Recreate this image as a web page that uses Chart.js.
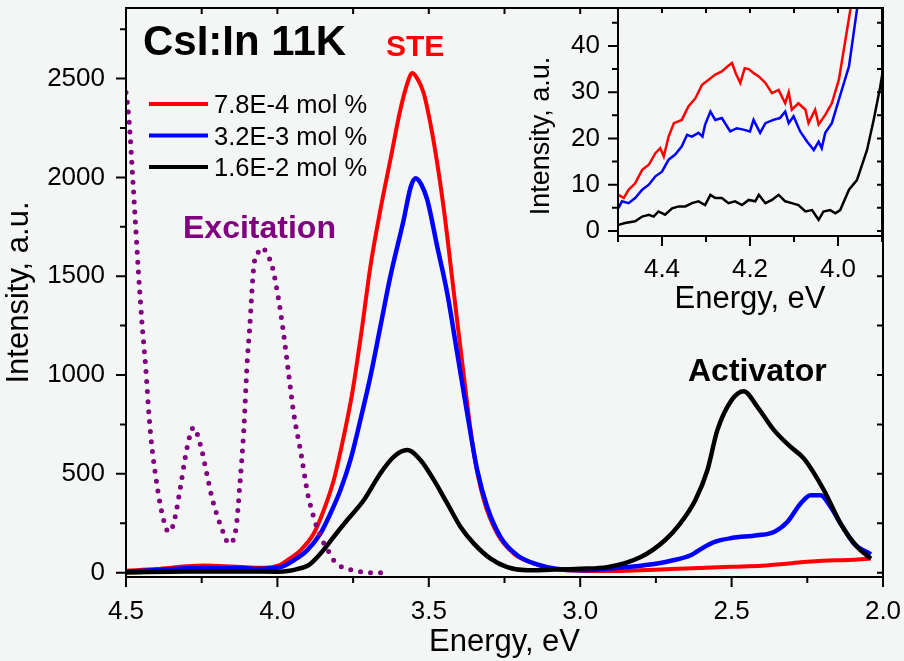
<!DOCTYPE html>
<html>
<head>
<meta charset="utf-8">
<script src="https://cdn.jsdelivr.net/npm/chart.js@4.4.1/dist/chart.umd.min.js"></script>
<style>
    body { margin: 0; background: #f4f6f5; }
    #wrap { position: relative; width: 904px; height: 661px; }
    #mainChart { position: absolute; left: 0; top: 0; }
    #insetChart { position: absolute; left: 520px; top: 0; }
</style>
</head>
<body>
<div id="wrap">
    <canvas id="mainChart" width="904" height="661"></canvas>
    <canvas id="insetChart" width="384" height="318"></canvas>
</div>
<script>
// Data

const seriesLabels = ['7.8E-4 mol %', '3.2E-3 mol %', '1.6E-2 mol %'];
const seriesColors = ['#ff0000', '#0000ff', '#000000'];
const excitationColor = '#800080';

// main plot
const energyRed = [4.50, 4.40, 4.30, 4.24, 4.15, 4.07, 4.02, 3.99, 3.968, 3.924, 3.88, 3.847, 3.814, 3.786, 3.753, 3.72, 3.693, 3.66, 3.627, 3.594, 3.57, 3.555, 3.54, 3.517, 3.483, 3.45, 3.417, 3.384, 3.351, 3.318, 3.274, 3.219, 3.153, 3.10, 3.00, 2.90, 2.80, 2.70, 2.60, 2.50, 2.40, 2.30, 2.25, 2.20, 2.10, 2.04];
const intensityRed = [10, 18, 32, 36, 31, 25, 28, 40, 62, 113, 198, 316, 468, 653, 907, 1244, 1548, 1835, 2088, 2342, 2480, 2528, 2505, 2427, 2173, 1835, 1413, 991, 603, 366, 198, 96, 46, 22, 10, 8, 12, 18, 24, 30, 35, 48, 55, 60, 65, 72];

const energyBlue = [4.50, 4.40, 4.30, 4.25, 4.18, 4.12, 4.06, 4.02, 3.99, 3.975, 3.946, 3.902, 3.858, 3.825, 3.792, 3.759, 3.726, 3.693, 3.66, 3.627, 3.583, 3.56, 3.544, 3.525, 3.505, 3.472, 3.439, 3.406, 3.373, 3.34, 3.307, 3.263, 3.208, 3.142, 3.08, 3.00, 2.91, 2.80, 2.745, 2.70, 2.635, 2.59, 2.558, 2.50, 2.415, 2.36, 2.316, 2.272, 2.239, 2.206, 2.173, 2.14, 2.096, 2.04];
const intensityBlue = [5, 13, 22, 24, 22, 24, 18, 22, 28, 36, 62, 113, 198, 299, 417, 569, 772, 991, 1244, 1498, 1785, 1950, 1996, 1965, 1886, 1649, 1413, 1109, 805, 518, 332, 180, 88, 42, 20, 12, 20, 35, 46, 60, 88, 130, 155, 175, 189, 206, 256, 350, 392, 392, 332, 248, 147, 93];

const energyBlack = [4.50, 4.30, 4.10, 4.00, 3.96, 3.935, 3.90, 3.88, 3.85, 3.825, 3.77, 3.715, 3.66, 3.616, 3.571, 3.527, 3.483, 3.439, 3.395, 3.351, 3.296, 3.241, 3.175, 3.10, 3.00, 2.91, 2.80, 2.72, 2.67, 2.62, 2.58, 2.547, 2.50, 2.46, 2.415, 2.36, 2.305, 2.261, 2.195, 2.14, 2.085, 2.04];
const intensityBlack = [1, 6, 6, 5, 10, 18, 35, 60, 110, 160, 265, 366, 502, 586, 620, 569, 468, 350, 231, 147, 71, 28, 12, 15, 20, 28, 79, 164, 248, 366, 518, 721, 873, 918, 839, 721, 636, 577, 417, 248, 130, 71];

const energyExc = [4.50, 4.493, 4.486, 4.48, 4.472, 4.46, 4.447, 4.436, 4.42, 4.40, 4.381, 4.359, 4.343, 4.32, 4.304, 4.29, 4.277, 4.254, 4.232, 4.218, 4.199, 4.175, 4.161, 4.136, 4.125, 4.111, 4.10, 4.092, 4.078, 4.062, 4.05, 4.035, 4.017, 3.998, 3.981, 3.963, 3.946, 3.922, 3.90, 3.885, 3.864, 3.83, 3.814, 3.786, 3.753, 3.72, 3.687, 3.65];
const intensityExc = [2430, 2342, 2207, 2053, 1851, 1547, 1260, 1059, 721, 468, 300, 206, 248, 434, 586, 687, 735, 645, 493, 392, 290, 189, 147, 231, 426, 721, 1059, 1227, 1548, 1625, 1645, 1615, 1548, 1400, 1227, 1008, 805, 603, 400, 307, 206, 104, 62, 28, 13, 3, 0, 0];

const mainXTicks = [2.0, 2.5, 3.0, 3.5, 4.0, 4.5];
const mainXMinor = [2.25, 2.75, 3.25, 3.75, 4.25];
const mainYTicks = [0, 500, 1000, 1500, 2000, 2500];
const mainYMinor = [250, 750, 1250, 1750, 2250, 2750];

// inset
const insetEnergyRed = [4.499, 4.487, 4.476, 4.461, 4.445, 4.43, 4.415, 4.404, 4.396, 4.385, 4.373, 4.355, 4.34, 4.324, 4.309, 4.294, 4.279, 4.264, 4.252, 4.241, 4.232, 4.222, 4.212, 4.203, 4.19, 4.18, 4.165, 4.15, 4.135, 4.12, 4.112, 4.105, 4.09, 4.074, 4.067, 4.052, 4.044, 4.029, 4.014, 3.998, 3.983, 3.972, 3.962];
const insetRed = [7.8, 7.1, 8.9, 10.3, 13.2, 14.3, 16.8, 17.9, 16.1, 20.4, 23.3, 24.0, 26.9, 28.7, 31.6, 32.7, 33.8, 34.5, 35.5, 36.3, 34.0, 32.0, 35.2, 35.0, 34.0, 33.4, 32.0, 29.8, 30.5, 27.6, 30.0, 26.2, 27.6, 26.2, 23.3, 26.2, 23.0, 25.1, 27.6, 32.7, 41.4, 47.8, 55];

const insetEnergyBlue = [4.499, 4.491, 4.476, 4.461, 4.445, 4.43, 4.415, 4.40, 4.385, 4.37, 4.355, 4.343, 4.332, 4.317, 4.308, 4.302, 4.29, 4.279, 4.264, 4.245, 4.23, 4.215, 4.20, 4.192, 4.177, 4.165, 4.147, 4.132, 4.12, 4.112, 4.101, 4.086, 4.07, 4.055, 4.044, 4.037, 4.029, 4.014, 3.998, 3.975, 3.957, 3.948];
const insetBlue = [4.9, 6.4, 6.0, 7.1, 8.9, 10.0, 11.8, 12.8, 15.4, 16.5, 18.3, 20.8, 20.4, 21.2, 20.4, 23.0, 25.8, 24.0, 24.4, 21.5, 22.2, 21.9, 21.5, 24.0, 21.2, 23.3, 24.0, 24.4, 25.8, 23.3, 24.8, 21.5, 19.3, 17.5, 19.3, 17.9, 21.2, 23.3, 28.4, 35.6, 47.8, 55];

const insetEnergyBlack = [4.499, 4.484, 4.461, 4.445, 4.43, 4.419, 4.408, 4.393, 4.377, 4.362, 4.347, 4.332, 4.317, 4.302, 4.29, 4.279, 4.264, 4.249, 4.234, 4.218, 4.203, 4.188, 4.18, 4.165, 4.15, 4.135, 4.12, 4.105, 4.09, 4.074, 4.059, 4.044, 4.033, 4.018, 4.006, 3.995, 3.975, 3.957, 3.934, 3.919, 3.904, 3.895];
const insetBlack = [1.3, 1.7, 2.1, 3.1, 3.5, 3.1, 4.2, 3.5, 4.9, 5.3, 5.3, 6.0, 6.4, 5.6, 7.8, 7.1, 7.1, 6.0, 6.4, 5.6, 6.7, 6.4, 7.8, 6.0, 6.7, 7.8, 6.4, 6.0, 5.6, 4.2, 4.5, 2.4, 4.2, 4.5, 3.8, 4.5, 8.9, 11.0, 17.5, 24.0, 31.2, 36.5];

const insetXTicks = [4.0, 4.2, 4.4];
const insetXMinor = [3.9, 4.1, 4.3, 4.5];
const insetYTicks = [0, 10, 20, 30, 40];
const insetYMinor = [5, 15, 25, 35, 45];


Chart.defaults.font.family = '"Liberation Sans", Arial, sans-serif';
Chart.defaults.color = '#000';

const toPoints = (xs, ys) => xs.map((x, i) => ({ x: x, y: ys[i] }));

// fixed axis box sizes, no automatic padding from the tick labels
const fixWidth = w => s => { s.width = w; s.paddingTop = 0; s.paddingBottom = 0; };
const fixHeight = h => s => { s.height = h; s.paddingLeft = 0; s.paddingRight = 0; };

// frame with outward ticks left/bottom, inward ticks top/right
const drawFrame = (chart, t) => {
    const { ctx, chartArea: a, scales: { x, y } } = chart;
    ctx.save();
    ctx.strokeStyle = '#000';
    ctx.lineWidth = 2;
    ctx.strokeRect(a.left, a.top, a.right - a.left, a.bottom - a.top);
    ctx.beginPath();
    const xTick = (v, len) => {
        const px = x.getPixelForValue(v);
        ctx.moveTo(px, a.bottom);
        ctx.lineTo(px, a.bottom + len);
        if (px < t.topLimit) {
            ctx.moveTo(px, a.top);
            ctx.lineTo(px, a.top + t.inner);
        }
    };
    const yTick = (v, len) => {
        const py = y.getPixelForValue(v);
        if (py < a.top - 1) return;
        ctx.moveTo(a.left, py);
        ctx.lineTo(a.left - len, py);
        if (py > t.rightLimit) {
            ctx.moveTo(a.right, py);
            ctx.lineTo(a.right - t.inner, py);
        }
    };
    t.xMajor.forEach(v => xTick(v, t.major));
    t.xMinor.forEach(v => xTick(v, t.minor));
    t.yMajor.forEach(v => yTick(v, t.major));
    t.yMinor.forEach(v => yTick(v, t.minor));
    ctx.stroke();
    ctx.restore();
};

const mainFrame = {
    id: 'mainFrame',
    afterDraw(chart) {
        drawFrame(chart, {
            xMajor: mainXTicks, xMinor: mainXMinor, yMajor: mainYTicks, yMinor: mainYMinor,
            major: 10, minor: 6, inner: 6, topLimit: 612, rightLimit: 240,
        });

        const ctx = chart.ctx;
        ctx.save();
        ctx.textBaseline = 'alphabetic';
        ctx.textAlign = 'left';

        ctx.font = 'bold 42px "Liberation Sans", Arial, sans-serif';
        ctx.fillStyle = '#000';
        ctx.fillText('CsI:In 11K', 143, 55);

        ctx.font = 'bold 30px "Liberation Sans", Arial, sans-serif';
        ctx.fillStyle = seriesColors[0];
        ctx.fillText('STE', 386, 56);

        ctx.font = 'bold 32px "Liberation Sans", Arial, sans-serif';
        ctx.fillStyle = excitationColor;
        ctx.fillText('Excitation', 183, 238);
        ctx.fillStyle = '#000';
        ctx.fillText('Activator', 688, 381);

        // legend
        ctx.font = '25.5px "Liberation Sans", Arial, sans-serif';
        ctx.lineWidth = 4;
        seriesLabels.forEach((label, i) => {
            const ly = 104 + i * 31.5;
            ctx.strokeStyle = seriesColors[i];
            ctx.beginPath();
            ctx.moveTo(149, ly);
            ctx.lineTo(208, ly);
            ctx.stroke();
            ctx.fillStyle = '#000';
            ctx.fillText(label, 214, ly + 9);
        });
        ctx.restore();
    }
};

const insetFrame = {
    id: 'insetFrame',
    afterDraw(chart) {
        drawFrame(chart, {
            xMajor: insetXTicks, xMinor: insetXMinor, yMajor: insetYTicks, yMinor: insetYMinor,
            major: 10, minor: 6, inner: 5, topLimit: 9999, rightLimit: -1,
        });
        const ctx = chart.ctx;
        ctx.save();
        ctx.translate(29, 136);
        ctx.rotate(-Math.PI / 2);
        ctx.font = '27px "Liberation Sans", Arial, sans-serif';
        ctx.fillStyle = '#000';
        ctx.textAlign = 'center';
        ctx.textBaseline = 'alphabetic';
        ctx.fillText('Intensity, a.u.', 0, 0);
        ctx.restore();
    }
};

const lineSet = (label, xs, ys, color, width, order) => ({
    label: label,
    data: toPoints(xs, ys),
    borderColor: color,
    borderWidth: width,
    pointRadius: 0,
    fill: false,
    order: order,
});

const noGrid = { display: false, drawTicks: false, tickLength: 0 };


const mainChart = new Chart(document.getElementById('mainChart'), {
    type: 'line',
    data: {
        datasets: [
            { ...lineSet(seriesLabels[0], energyRed, intensityRed, seriesColors[0], 4, 4), cubicInterpolationMode: 'monotone' },
            { ...lineSet(seriesLabels[1], energyBlue, intensityBlue, seriesColors[1], 4.5, 3), cubicInterpolationMode: 'monotone' },
            { ...lineSet(seriesLabels[2], energyBlack, intensityBlack, seriesColors[2], 4.5, 2), cubicInterpolationMode: 'monotone' },
            {
                ...lineSet('Excitation', energyExc, intensityExc, excitationColor, 5, 1),
                cubicInterpolationMode: 'monotone',
                borderDash: [0, 10],
                borderCapStyle: 'round',
            },
        ],
    },
    options: {
        responsive: false,
        animation: false,
        layout: { autoPadding: false, padding: { top: 8, right: 21, left: 0, bottom: 0 } },
        plugins: { legend: { display: false }, tooltip: { enabled: false } },
        scales: {
            x: {
                type: 'linear',
                reverse: true,
                min: 2.0,
                max: 4.5,
                afterBuildTicks: s => { s.ticks = mainXTicks.map(v => ({ value: v })); },
                afterFit: fixHeight(84),
                grid: noGrid,
                border: { display: false },
                ticks: { font: { size: 26 }, padding: 19, maxRotation: 0, autoSkip: false, callback: v => v.toFixed(1) },
                title: { display: true, text: 'Energy, eV', font: { size: 31 }, padding: 0 },
            },
            y: {
                type: 'linear',
                min: -22,
                max: 2857,
                afterBuildTicks: s => { s.ticks = mainYTicks.map(v => ({ value: v })); },
                afterFit: fixWidth(126),
                grid: noGrid,
                border: { display: false },
                ticks: { font: { size: 26 }, padding: 21, autoSkip: false, callback: v => String(v) },
                title: { display: true, text: 'Intensity, a.u.', font: { size: 31 }, padding: { top: 1, bottom: 0 } },
            },
        },
    },
    plugins: [mainFrame],
});


const insetChart = new Chart(document.getElementById('insetChart'), {
    type: 'line',
    data: {
        datasets: [
            lineSet(seriesLabels[0], insetEnergyRed, insetRed, seriesColors[0], 2.5, 3),
            lineSet(seriesLabels[1], insetEnergyBlue, insetBlue, seriesColors[1], 2.5, 2),
            lineSet(seriesLabels[2], insetEnergyBlack, insetBlack, seriesColors[2], 2.5, 1),
        ],
    },
    options: {
        responsive: false,
        animation: false,
        layout: { autoPadding: false, padding: { top: 8, right: 22, left: 0, bottom: 0 } },
        plugins: { legend: { display: false }, tooltip: { enabled: false } },
        scales: {
            x: {
                type: 'linear',
                reverse: true,
                min: 3.9,
                max: 4.5,
                afterBuildTicks: s => { s.ticks = insetXTicks.map(v => ({ value: v })); },
                afterFit: fixHeight(82),
                grid: noGrid,
                border: { display: false },
                ticks: { font: { size: 26 }, padding: 18, maxRotation: 0, autoSkip: false, callback: v => v.toFixed(1) },
                title: { display: true, text: 'Energy, eV', font: { size: 31 }, padding: 0 },
            },
            y: {
                type: 'linear',
                min: -1.1,
                max: 48.2,
                afterBuildTicks: s => { s.ticks = insetYTicks.map(v => ({ value: v })); },
                afterFit: fixWidth(98),
                grid: noGrid,
                border: { display: false },
                ticks: { font: { size: 26 }, padding: 18, autoSkip: false, callback: v => String(v) },
                title: { display: false },
            },
        },
    },
    plugins: [insetFrame],
});
</script>
</body>
</html>
